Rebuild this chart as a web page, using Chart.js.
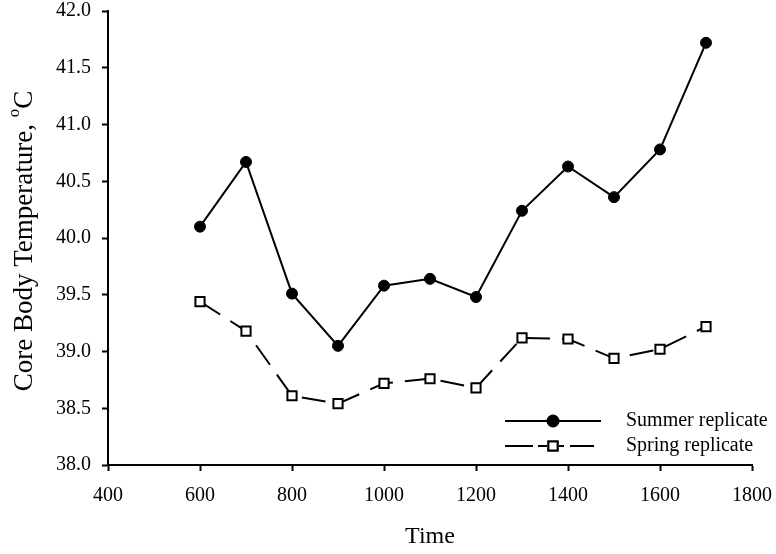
<!DOCTYPE html>
<html>
<head>
<meta charset="utf-8">
<script src="https://cdn.jsdelivr.net/npm/chart.js@4/dist/chart.umd.min.js"></script>
<style>
  html, body { margin: 0; padding: 0; background: #fff; }
  #wrap { width: 776px; height: 554px; }
</style>
</head>
<body>
<div id="wrap"><canvas id="tempChart" width="776" height="554"></canvas></div>
<script>
// values
const times = [600, 700, 800, 900, 1000, 1100, 1200, 1300, 1400, 1500, 1600, 1700];
const summerTemps = [40.10, 40.67, 39.51, 39.05, 39.58, 39.64, 39.48, 40.24, 40.63, 40.36, 40.78, 41.72];
const springTemps = [39.44, 39.18, 38.61, 38.54, 38.72, 38.76, 38.68, 39.12, 39.11, 38.94, 39.02, 39.22];
const seriesNames = ['Summer replicate', 'Spring replicate'];
const yTitle = ['Core Body Temperature, ', 'o', 'C'];

const serif = "'Liberation Serif', 'Times New Roman', serif";

// legend drawn inside the plot area, line + marker + label like the original
const insideLegend = {
    id: 'insideLegend',
    afterDatasetsDraw(chart) {
        const ctx = chart.ctx;
        const rows = [421, 446];
        chart.data.datasets.forEach((ds, i) => {
            const y = rows[i];
            ctx.save();
            ctx.strokeStyle = '#000';
            ctx.lineWidth = 2;
            if (ds.borderDash && ds.borderDash.length) {
                // dash segments around the marker
                [[505, 533], [538, 547], [559, 564], [570, 594]].forEach(s => {
                    ctx.beginPath();
                    ctx.moveTo(s[0], y);
                    ctx.lineTo(s[1], y);
                    ctx.stroke();
                });
            } else {
                ctx.beginPath();
                ctx.moveTo(505, y);
                ctx.lineTo(601, y);
                ctx.stroke();
            }
            Chart.helpers.drawPoint(ctx, {
                pointStyle: ds.pointStyle,
                radius: ds.pointRadius,
                borderWidth: ds.pointBorderWidth
            }, 553, y);
            ctx.fillStyle = ds.pointBackgroundColor;
            ctx.strokeStyle = '#000';
            ctx.lineWidth = ds.pointBorderWidth;
            ctx.fill();
            ctx.stroke();
            ctx.fillStyle = '#000';
            ctx.font = '20px ' + serif;
            ctx.textBaseline = 'middle';
            ctx.textAlign = 'left';
            ctx.fillText(ds.label, 626, y);
            ctx.restore();
        });
    }
};

// y axis title with a raised "o" before the C
const yAxisTitle = {
    id: 'yAxisTitle',
    afterDraw(chart) {
        const ctx = chart.ctx;
        const area = chart.chartArea;
        const big = '27px ' + serif;
        const small = '17px ' + serif;
        ctx.save();
        ctx.font = big;
        const w0 = ctx.measureText(yTitle[0]).width;
        const w2 = ctx.measureText(yTitle[2]).width;
        ctx.font = small;
        const w1 = ctx.measureText(yTitle[1]).width;
        const total = w0 + w1 + w2;
        ctx.translate(25, (area.top + area.bottom) / 2 + 3);
        ctx.rotate(-Math.PI / 2);
        ctx.fillStyle = '#000';
        ctx.textBaseline = 'middle';
        ctx.textAlign = 'left';
        let x = -total / 2;
        ctx.font = big;
        ctx.fillText(yTitle[0], x, 0);
        x += w0;
        ctx.font = small;
        ctx.fillText(yTitle[1], x, -10);
        x += w1;
        ctx.font = big;
        ctx.fillText(yTitle[2], x, 0);
        ctx.restore();
    }
};

const tempChart = new Chart(
    document.getElementById('tempChart'),
    {
        type: 'line',
        data: {
            datasets: [{
                label: seriesNames[0],
                data: times.map((t, i) => ({ x: t, y: summerTemps[i] })),
                borderColor: '#000',
                borderWidth: 2,
                pointStyle: 'circle',
                pointRadius: 5.5,
                pointBorderWidth: 1,
                pointBackgroundColor: '#000',
                pointBorderColor: '#000',
                tension: 0
            }, {
                label: seriesNames[1],
                data: times.map((t, i) => ({ x: t, y: springTemps[i] })),
                borderColor: '#000',
                borderWidth: 2,
                borderDash: [24, 12],
                pointStyle: 'rect',
                pointRadius: 6.5,
                pointBorderWidth: 2,
                pointBackgroundColor: '#fff',
                pointBorderColor: '#000',
                tension: 0
            }]
        },
        options: {
            responsive: false,
            animation: false,
            layout: { padding: { top: 11, right: 24, left: 0, bottom: 0 } },
            plugins: {
                legend: { display: false },
                tooltip: { enabled: false }
            },
            scales: {
                x: {
                    type: 'linear',
                    min: 400,
                    max: 1800,
                    afterFit: s => {
                        s.height = 89;
                        s.paddingLeft = 0;
                        s.paddingRight = 0;
                    },
                    grid: { drawOnChartArea: false, drawTicks: true, tickLength: 6, tickWidth: 2, color: '#000' },
                    border: { display: true, color: '#000', width: 2 },
                    ticks: {
                        stepSize: 200,
                        color: '#000',
                        padding: 13,
                        font: { family: serif, size: 20 },
                        callback: v => String(v)
                    },
                    title: {
                        display: true,
                        text: 'Time',
                        color: '#000',
                        padding: { top: 0, bottom: 3 },
                        font: { family: serif, size: 24 }
                    }
                },
                y: {
                    min: 38,
                    max: 42,
                    afterFit: s => {
                        s.width = 108;
                        s.paddingTop = 0;
                        s.paddingBottom = 0;
                    },
                    grid: { drawOnChartArea: false, drawTicks: true, tickLength: 6, tickWidth: 2, color: '#000' },
                    border: { display: true, color: '#000', width: 2 },
                    ticks: {
                        stepSize: 0.5,
                        color: '#000',
                        padding: 11,
                        font: { family: serif, size: 20 },
                        callback: v => v.toFixed(1)
                    },
                    title: { display: false }
                }
            }
        },
        plugins: [insideLegend, yAxisTitle]
    }
);
</script>
</body>
</html>
